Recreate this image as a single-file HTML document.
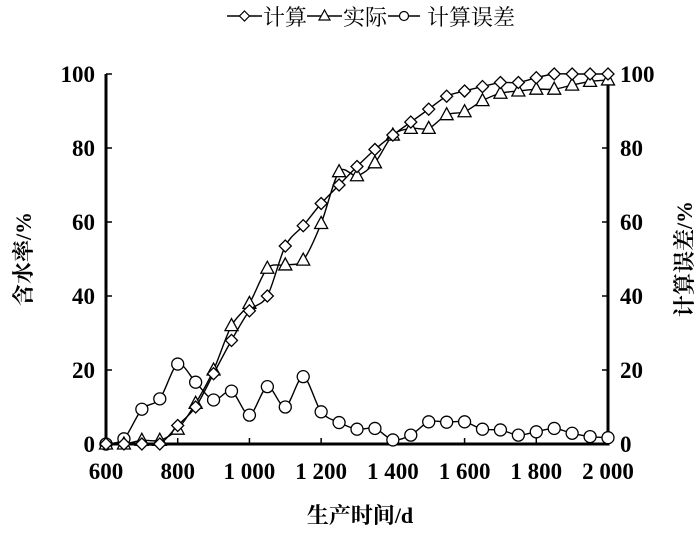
<!DOCTYPE html>
<html><head><meta charset="utf-8"><style>
html,body{margin:0;padding:0;background:#fff;}
svg{display:block;}
text{font-family:"Liberation Serif","Noto Serif CJK SC",serif;fill:#000;}
</style></head><body>
<svg id="chart" width="700" height="533">
<g id="legend"></g>
<g id="axes"></g>
<g id="series"></g>
</svg>
<script>
const days = [600,650,700,750,800,850,900,950,1000,1050,1100,1150,1200,1250,1300,1350,1400,1450,1500,1550,1600,1650,1700,1750,1800,1850,1900,1950,2000];
const calcValues = [0,0,0,0,5,10,19,28,36,40,53.5,59,65,70,75,79.6,83.5,87,90.5,94,95.4,96.6,97.7,97.7,99,100,100,100,100];
const actualValues = [0,0,1,1,4,11,20,32,38,47.5,48.4,49.7,59.6,73.6,72.5,76,83.5,85.3,85.3,89,89.8,92.8,94.8,95.4,95.9,95.9,97,98,98.4];
const errorValues = [0,1.4,9.4,12.2,21.6,16.7,11.9,14.3,7.8,15.5,10,18.2,8.7,5.8,4,4.2,1.1,2.4,6,5.9,6,4,3.8,2.4,3.3,4.2,2.9,2,1.7];
const xTicks = [600,800,1000,1200,1400,1600,1800,2000];
const xTickLabels = ["600","800","1 000","1 200","1 400","1 600","1 800","2 000"];
const yTicks = [0,20,40,60,80,100];

const NS="http://www.w3.org/2000/svg";
const X0=106,X1=608,Y0=444,Y1=74;
const xs=d=>X0+(d-600)/1400*(X1-X0);
const ys=v=>Y0-v/100*(Y0-Y1);
function mk(tag,attrs,parent){const e=document.createElementNS(NS,tag);for(const k in attrs)e.setAttribute(k,attrs[k]);parent.appendChild(e);return e;}
const axes=document.getElementById('axes'),series=document.getElementById('series'),legend=document.getElementById('legend');

let el=mk('path',{d:`M${X0},${Y1}V${Y0}H${X1}V${Y1}`,fill:'none',stroke:'#000','stroke-width':3},axes);


xTicks.forEach((t,i)=>{
  let l=mk('line',{x1:xs(t),x2:xs(t),y1:Y0,y2:Y0-6,stroke:'#000','stroke-width':1.5},axes);
  
  
  let tx=mk('text',{x:xs(t),y:479,'text-anchor':'middle','font-size':23,'font-weight':'bold'},axes);
  tx.textContent=xTickLabels[i];
  
  
});
yTicks.forEach(t=>{
  let l=mk('line',{x1:X0,x2:X0+6,y1:ys(t),y2:ys(t),stroke:'#000','stroke-width':1.5},axes);
  
  
  let r=mk('line',{x1:X1,x2:X1-6,y1:ys(t),y2:ys(t),stroke:'#000','stroke-width':1.5},axes);
  
  
  let a=mk('text',{x:95,y:ys(t)+8,'text-anchor':'end','font-size':23,'font-weight':'bold'},axes);
  a.textContent=t;
  
  
  let b=mk('text',{x:620,y:ys(t)+8,'text-anchor':'start','font-size':23,'font-weight':'bold'},axes);
  b.textContent=t;
  
  
});
let xt=mk('text',{x:360,y:523,'text-anchor':'middle','font-size':22,'font-weight':'bold'},axes);xt.textContent='生产时间/d';


let yl=mk('text',{x:0,y:0,'text-anchor':'middle','font-size':22,'font-weight':'bold',transform:'translate(31,259) rotate(-90)'},axes);yl.textContent='含水率/%';


let yr=mk('text',{x:0,y:0,'text-anchor':'middle','font-size':22,'font-weight':'bold',transform:'translate(692,259) rotate(-90)'},axes);yr.textContent='计算误差/%';



function smooth(pts){let d=`M${pts[0][0]},${pts[0][1]}`;for(let i=0;i<pts.length-1;i++){const p0=pts[i-1]||pts[i],p1=pts[i],p2=pts[i+1],p3=pts[i+2]||p2;const t=0.15;d+=`C${p1[0]+(p2[0]-p0[0])*t},${p1[1]+(p2[1]-p0[1])*t} ${p2[0]-(p3[0]-p1[0])*t},${p2[1]-(p3[1]-p1[1])*t} ${p2[0]},${p2[1]}`;}return d;}
function marker(type,x,y,parent){
  if(type==='diamond')return mk('path',{d:`M${x},${y-6}L${x+6},${y}L${x},${y+6}L${x-6},${y}Z`,fill:'#fff',stroke:'#000','stroke-width':1.3},parent);
  if(type==='triangle')return mk('path',{d:`M${x},${y-7}L${x+6.5},${y+5}L${x-6.5},${y+5}Z`,fill:'#fff',stroke:'#000','stroke-width':1.3},parent);
  return mk('circle',{cx:x,cy:y,r:6,fill:'#fff',stroke:'#000','stroke-width':1.3},parent);
}
function drawSeries(vals,type,name){
  const g=mk('g',{},series);
  
  
  const pts=vals.map((v,i)=>[xs(days[i]),ys(v)]);
  const p=mk('path',{d:smooth(pts),fill:'none',stroke:'#000','stroke-width':1.4},g);
  
  
  pts.forEach(q=>{const m=marker(type,q[0],q[1],g);
    
    });
}
drawSeries(errorValues,'circle','error-series');
drawSeries(actualValues,'triangle','actual-series');
drawSeries(calcValues,'diamond','calc-series');

const leg=[[227,262,'diamond',263,'计算'],[307,342,'triangle',343,'实际'],[388,420,'circle',427,'计算误差']];
leg.forEach(L=>{
  const g=mk('g',{},legend);
  
  
  mk('line',{x1:L[0],x2:L[1],y1:16,y2:16,stroke:'#000','stroke-width':1.4},g);
  const c=(L[0]+L[1])/2;
  if(L[2]==='circle')mk('circle',{cx:c,cy:16,r:4.5,fill:'#fff',stroke:'#000','stroke-width':1.2},g);
  else if(L[2]==='diamond')mk('path',{d:`M${c},${11}L${c+5},16L${c},21L${c-5},16Z`,fill:'#fff',stroke:'#000','stroke-width':1.2},g);
  else mk('path',{d:`M${c},10L${c+5.5},20L${c-5.5},20Z`,fill:'#fff',stroke:'#000','stroke-width':1.2},g);
  const t=mk('text',{x:L[3],y:25,'font-size':22},g);t.textContent=L[4];
});
</script>
</body></html>
